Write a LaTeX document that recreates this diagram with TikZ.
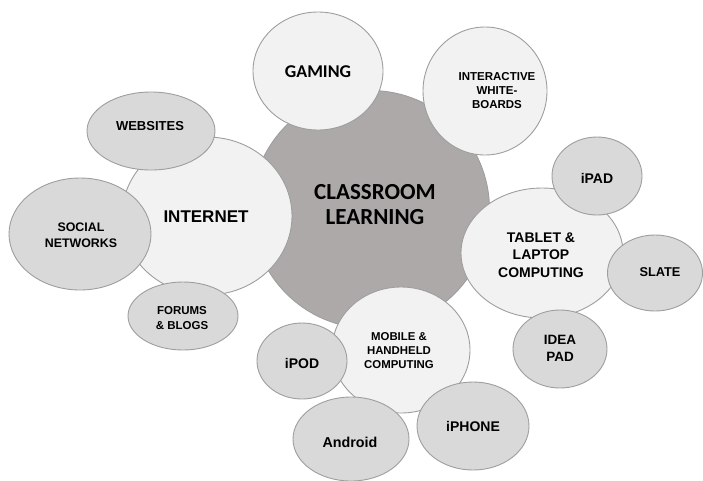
\documentclass[tikz,border=0pt]{standalone}
\usepackage{fontspec}
\setmainfont{Liberation Sans}
\newfontfamily\calfont{Carlito}
\usetikzlibrary{shapes.geometric}

\definecolor{hubgray}{RGB}{173,169,169}
\definecolor{lightfill}{RGB}{242,242,242}
\definecolor{midfill}{RGB}{217,217,217}
\definecolor{rimgray}{RGB}{158,158,158}

\tikzset{
  bubble/.style={ellipse, draw=rimgray, line width=0.9pt, inner sep=0pt},
  hub/.style={bubble, fill=hubgray},
  topic/.style={bubble, fill=lightfill},
  leaf/.style={bubble, fill=midfill},
  caption/.style={align=center, inner sep=0pt, text=black},
}

\begin{document}
\begin{tikzpicture}[x=1pt,y=-1pt]
\useasboundingbox (0,0) rectangle (703,480);

% central hub
\node[hub, minimum width=238pt, minimum height=238pt] (hub) at (370.5,209.5) {};
\node[caption, font=\calfont\bfseries\fontsize{23}{25}\selectfont] (hubtxt) at (375,205) {CLASSROOM\\LEARNING};

% main topics
\node[topic, minimum width=130pt, minimum height=118pt] (gaming) at (318,71) {};
\node[caption, font=\calfont\bfseries\fontsize{18}{20}\selectfont] (gamingtxt) at (318,72) {GAMING};

\node[topic, minimum width=124pt, minimum height=128pt] (boards) at (485,91) {};
\node[caption, font=\bfseries\fontsize{11.5}{14}\selectfont] (boardstxt) at (497,91) {INTERACTIVE\\WHITE-\\BOARDS};

\node[topic, minimum width=170pt, minimum height=158pt] (internet) at (207,216) {};
\node[caption, font=\bfseries\fontsize{17}{20}\selectfont] (internettxt) at (206,217) {INTERNET};

\node[topic, minimum width=138pt, minimum height=126pt] (mobile) at (401,350) {};
\node[caption, font=\bfseries\fontsize{11.4}{14}\selectfont] (mobiletxt) at (399,351) {MOBILE \&\\HANDHELD\\COMPUTING};

\node[topic, minimum width=162pt, minimum height=130pt] (tablet) at (542,253) {};
\node[caption, font=\bfseries\fontsize{14}{17.5}\selectfont] (tablettxt) at (541,255) {TABLET \&\\LAPTOP\\COMPUTING};

% internet leaves
\node[leaf, minimum width=128pt, minimum height=78pt] (websites) at (151,131) {};
\node[caption, font=\bfseries\fontsize{13}{15}\selectfont] (websitestxt) at (150,126) {WEBSITES};

\node[leaf, minimum width=142pt, minimum height=112pt] (social) at (80,234) {};
\node[caption, font=\bfseries\fontsize{12.4}{16.5}\selectfont] (socialtxt) at (81,235) {SOCIAL\\NETWORKS};

\node[leaf, minimum width=110pt, minimum height=68pt] (forums) at (183,316) {};
\node[caption, font=\bfseries\fontsize{11.5}{15}\selectfont] (forumstxt) at (182,318) {FORUMS\\\& BLOGS};

% mobile leaves
\node[leaf, minimum width=90pt, minimum height=76pt] (ipod) at (302,361) {};
\node[caption, font=\bfseries\fontsize{14}{16}\selectfont] (ipodtxt) at (302,363) {iPOD};

\node[leaf, minimum width=116pt, minimum height=84pt] (android) at (351,439) {};
\node[caption, font=\bfseries\fontsize{14.3}{16}\selectfont] (androidtxt) at (350,442) {Android};

\node[leaf, minimum width=112pt, minimum height=88pt] (iphone) at (473,426) {};
\node[caption, font=\bfseries\fontsize{14}{16}\selectfont] (iphonetxt) at (473,426) {iPHONE};

% tablet leaves
\node[leaf, minimum width=90pt, minimum height=78pt] (ipad) at (597,176) {};
\node[caption, font=\bfseries\fontsize{14}{16}\selectfont] (ipadtxt) at (597,178) {iPAD};

\node[leaf, minimum width=95pt, minimum height=76pt] (slate) at (655,273) {};
\node[caption, font=\bfseries\fontsize{12.8}{15}\selectfont] (slatetxt) at (660,272) {SLATE};

\node[leaf, minimum width=94pt, minimum height=78pt] (ideapad) at (560,349) {};
\node[caption, font=\bfseries\fontsize{13.5}{17}\selectfont] (ideapadtxt) at (560,348) {IDEA\\PAD};
\end{tikzpicture}
\end{document}
